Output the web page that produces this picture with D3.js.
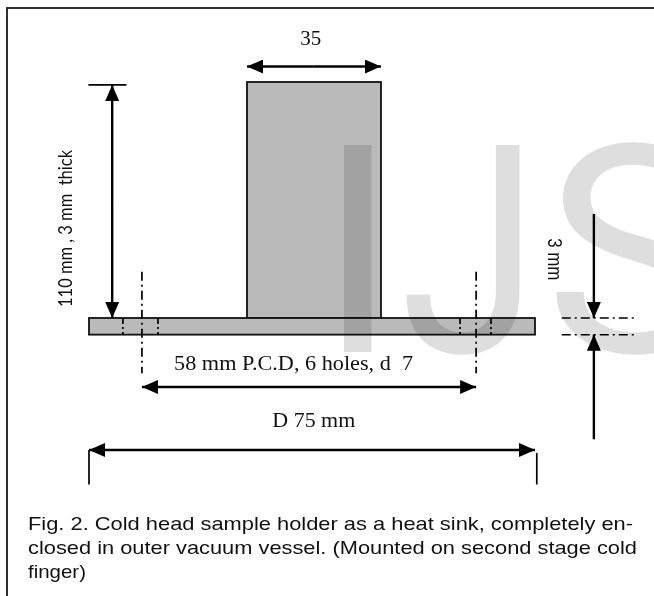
<!DOCTYPE html>
<html>
<head>
<meta charset="utf-8">
<script src="https://cdn.jsdelivr.net/npm/d3@7"></script>
<style>
html, body { margin: 0; padding: 0; background: #fff; }
svg { display: block; }
text { white-space: pre; }
</style>
</head>
<body>
<div id="chart"></div>
<script>
// all lengths in drawing units, the base plate is 75 wide, y = 0 is the plate top
var plate = { x0: -37.5, x1: 37.5, y0: -2.8, y1: 0 };
var block = { x0: -10.93, x1: 11.6, y0: 0, y1: 39.7 };
var holeCentres = [-28.6, 27.6];
var holeEdges = [-31.8, -25.9, 24.9, 30.1];
var heightDim = { x: -33.6, y0: 0, y1: 39.2, tick0: -37.6, tick1: -31.2 };
var widthDim = { y: 42.3 };
var pcdDim = { y: -11.6 };
var diaDim = { y: -22.2, tick0: -22.2, tick1: -28 };
var thickDim = { x: 47.4, top: 17.5, bottom: -20.4, l0: 42, l1: 54.6 };

var labels = ["35", "110 mm , 3 mm  thick", "58 mm P.C.D, 6 holes, d  7", "D 75 mm", "3 mm"];
var caption = [
  "Fig. 2. Cold head sample holder as a heat sink, completely en-",
  "closed in outer vacuum vessel. (Mounted on second stage cold",
  "finger)"
];
var captionLengths = [605, 609, 58];

var width = 654, height = 596;

var x = d3.scaleLinear().domain([-37.5, 37.5]).range([89, 535]);
var y = d3.scaleLinear().domain([0, 39.7]).range([318, 82]);

var svg = d3.select("#chart").append("svg")
    .attr("width", width)
    .attr("height", height);

// arrow heads
svg.append("defs").append("marker")
    .attr("id", "head")
    .attr("viewBox", "0 0 16 14")
    .attr("refX", 16)
    .attr("refY", 7)
    .attr("markerUnits", "userSpaceOnUse")
    .attr("markerWidth", 16)
    .attr("markerHeight", 14)
    .attr("orient", "auto-start-reverse")
  .append("path")
    .attr("d", "M0,0L16,7L0,14Z")
    .attr("fill", "#000");

// frame
svg.append("rect")
    .attr("x", 7)
    .attr("y", 8)
    .attr("width", 660)
    .attr("height", 620)
    .attr("fill", "none")
    .attr("stroke", "#1a1a1a")
    .attr("stroke-width", 1.8);

// body
function box(b) {
  svg.append("rect")
      .attr("x", x(b.x0))
      .attr("y", y(b.y1))
      .attr("width", x(b.x1) - x(b.x0))
      .attr("height", y(b.y0) - y(b.y1))
      .attr("fill", "#bababa")
      .attr("stroke", "#111")
      .attr("stroke-width", 1.8);
}
box(block);
box(plate);

function line(x1, y1, x2, y2, w, dash) {
  return svg.append("line")
      .attr("x1", x(x1)).attr("y1", y(y1))
      .attr("x2", x(x2)).attr("y2", y(y2))
      .attr("stroke", "#000")
      .attr("stroke-width", w)
      .attr("stroke-dasharray", dash || null);
}

function arrow(x1, y1, x2, y2) {
  line(x1, y1, x2, y2, 2.4).attr("marker-end", "url(#head)");
}

// hole centre lines and edges
var dashDot = "9 4 2 4";
holeCentres.forEach(function(c) { line(c, 7.8, c, -9.3, 1.7, dashDot); });
holeEdges.forEach(function(c) { line(c, 0, c, -2.8, 1.7, "6 3 2 3"); });

// height
line(heightDim.tick0, heightDim.y1, heightDim.tick1, heightDim.y1, 1.7);
arrow(heightDim.x, heightDim.y0 + 19, heightDim.x, heightDim.y1);
arrow(heightDim.x, heightDim.y0 + 19, heightDim.x, heightDim.y0);

// width of the block
arrow(0.3, widthDim.y, block.x0, widthDim.y);
arrow(0.3, widthDim.y, block.x1, widthDim.y);

// pitch circle
arrow(0, pcdDim.y, holeCentres[0], pcdDim.y);
arrow(0, pcdDim.y, holeCentres[1], pcdDim.y);

// diameter
arrow(0, diaDim.y, plate.x0, diaDim.y);
arrow(0, diaDim.y, plate.x1, diaDim.y);
line(plate.x0, diaDim.tick0, plate.x0, diaDim.tick1, 1.7);
line(plate.x1 + 0.3, diaDim.tick0 - 0.5, plate.x1 + 0.3, diaDim.tick1, 1.7);

// thickness
arrow(thickDim.x, thickDim.top, thickDim.x, plate.y1);
arrow(thickDim.x, thickDim.bottom, thickDim.x, plate.y0);
line(thickDim.l0, plate.y1, thickDim.l1, plate.y1, 1.5, dashDot);
line(thickDim.l0, plate.y0, thickDim.l1, plate.y0, 1.5, dashDot);

// dimension labels
var serif = "'Liberation Serif', serif";
var sans = "'Liberation Sans', Arial, sans-serif";
function text(str, px, py, size, family, rotate, len) {
  var t = svg.append("text")
      .attr("font-family", family)
      .attr("font-size", size)
      .attr("fill", "#111")
      .attr("text-anchor", "middle")
      .attr("transform", "translate(" + px + "," + py + ") rotate(" + (rotate || 0) + ")")
      .text(str);
  if (len) t.attr("textLength", len).attr("lengthAdjust", "spacingAndGlyphs");
  return t;
}
text(labels[0], x(0.3) - 3, y(45.9), 20, serif, 0, 21);
text(labels[1], x(-40.4), y(15.06), 20, "Lato, 'Open Sans', sans-serif", -90, 157);
text(labels[2], x(-3.1), y(-8.8), 20, serif, 0, 239);
text(labels[3], x(0.3), y(-18.3), 20, serif, 0, 83);
text(labels[4], x(39.7), y(9.9), 20, sans, 90, 42);

// caption
caption.forEach(function(c, i) {
  svg.append("text")
      .attr("x", 28)
      .attr("y", 530 + i * 24)
      .attr("font-family", sans)
      .attr("font-size", 18.5)
      .attr("fill", "#111")
      .attr("textLength", captionLengths[i])
      .attr("lengthAdjust", "spacingAndGlyphs")
      .text(c);
});

// watermark over everything
var markLetters = ["I", "J", "S"];
var markX = [318, 400, 545];
var markStretch = [1, 0.865, 1];
svg.selectAll("text.mark")
  .data(markLetters)
  .enter()
  .append("text")
    .attr("class", "mark")
    .attr("transform", function(d, i) {
      return "translate(" + markX[i] + ",352) scale(" + markStretch[i] + ",1)";
    })
    .attr("font-family", "Roboto, sans-serif")
    .attr("font-size", 291)
    .attr("fill", "#dedede")
    .style("mix-blend-mode", "multiply")
    .text(function(d) { return d; });
</script>
</body>
</html>
